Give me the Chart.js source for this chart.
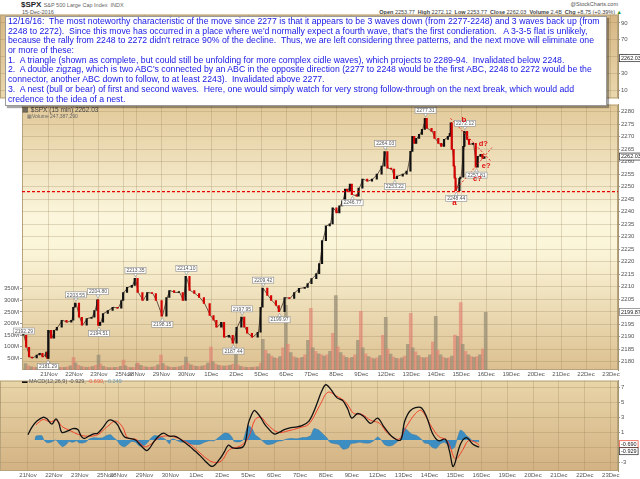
<!DOCTYPE html>
<html>
<head>
<meta charset="utf-8">
<title>$SPX 15 min</title>
<script src="https://cdn.jsdelivr.net/npm/chart.js@4.4.1/dist/chart.umd.min.js"></script>
<style>
  body { margin:0; width:640px; height:479px; overflow:hidden; background:#fff; position:relative;
         font-family:"Liberation Sans", Arial, sans-serif; }
  canvas { position:absolute; left:0; }
  #rsiChart { top:10px; }
  #priceChart { top:100px; }
  #macdChart { top:376px; }
  .t { position:absolute; white-space:pre; line-height:1; }
  #note { position:absolute; left:5px; top:16px; width:600px; height:88px; background:#fff;
          border:1px solid #9a9a9a; box-shadow:2px 2px 1px rgba(0,0,0,0.35); color:#1717e6; z-index:5; }
  #note div { white-space:pre; height:9.7px; line-height:9.7px; padding-left:2px; }
</style>
</head>
<body>

<div class="t" style="left:21px;top:1px;font-size:8px;font-weight:bold;color:#222">$SPX <span style="font-size:5.5px;font-weight:normal;color:#666">S&amp;P 500 Large Cap Index  INDX</span></div>
<div class="t" style="left:22px;top:10px;font-size:5.5px;color:#555">15-Dec-2016</div>
<div class="t" style="right:22px;top:2px;font-size:5.5px;color:#555">@StockCharts.com</div>
<div class="t" style="right:18px;top:10px;font-size:5.5px;color:#444"><b>Open</b> 2253.77  <b>High</b> 2272.12  <b>Low</b> 2253.77  <b>Close</b> 2262.03  <b>Volume</b> 2.4B  <b>Chg</b> +8.75 (+0.39%) <span style="color:#2a9a2a">&#9650;</span></div>

<canvas id="rsiChart" width="640" height="93"></canvas>
<canvas id="priceChart" width="640" height="280"></canvas>
<canvas id="macdChart" width="640" height="103"></canvas>

<div class="t" style="left:22px;top:107px;font-size:6.5px;color:#444">&#9638; $SPX (15 min) 2262.03</div>
<div class="t" style="left:27px;top:114px;font-size:5px;color:#666">&#9638;Volume 247,387,290</div>
<div class="t" style="left:22px;top:379px;font-size:5.5px;color:#555"><span style="color:#111">&#9644;</span> MACD(12,26,9) -0.929, <span style="color:#f05a3c">-0.690</span>, <span style="color:#6d9bb8">-0.249</span></div>

<div id="note">
<div>12/16/16:  The most noteworthy characteristic of the move since 2277 is that it appears to be 3 waves down (from 2277-2248) and 3 waves back up (from</div>
<div>2248 to 2272).  Since this move has occurred in a place where we'd normally expect a fourth wave, that's the first condieration.   A 3-3-5 flat is unlikely,</div>
<div>because the rally from 2248 to 2272 didn't retrace 90% of the decline.  Thus, we are left considering three patterns, and the next move will eliminate one</div>
<div>or more of these:</div>
<div>1.  A triangle (shown as complete, but could still be unfolding for more complex cidle waves), which projects to 2289-94.  Invalidated below 2248.</div>
<div>2.  A double zigzag, which is two ABC's connected by an ABC in the opposite direction (2277 to 2248 would be the first ABC, 2248 to 2272 would be the</div>
<div>connector, another ABC down to follow, to at least 2243).  Invalidated above 2277.</div>
<div>3.  A nest (bull or bear) of first and second waves.  Here, one would simply watch for very strong follow-through on the next break, which would add</div>
<div>credence to the idea of a nest.</div>
</div>

<script>
// ---- time axis (15-min bar index, 26 bars per session) ----
const dayLabels = ['21Nov','22Nov','23Nov','25Nov','28Nov','29Nov','30Nov','1Dec','2Dec','5Dec','6Dec','7Dec','8Dec','9Dec','12Dec','13Dec','14Dec','15Dec','16Dec','19Dec','20Dec','21Dec','22Dec','23Dec'];
const dayStart = [26,52,78,104,117,143,169,195,221,247,273,299,325,351,377,403,429,455,481,507,533,559,585,611];

// ---- tick labels ----
const priceTicks = [2180,2185,2190,2195,2200,2205,2210,2215,2220,2225,2230,2235,2240,2245,2250,2255,2260,2265,2270,2275,2280];
const volTicks = [50,100,150,200,250,300,350];
const macdTicks = [-3,-2,-1,0,1,2,3,4,5,6,7];
const rsiTicks = [10,30,50,70,90];

// ---- price (closes) ----
const priceIdx = [0,3,6,9,14,17,20,24,25,26,29,32,35,40,45,50,52,54,58,61,66,71,74,77,78,80,83,88,93,98,102,104,108,113,116,119,124,129,134,138,144,149,152,157,162,166,169,173,178,183,188,194,198,201,206,209,214,218,222,227,230,233,238,244,247,249,254,258,263,266,272,277,282,287,293,296,300,305,308,311,315,319,322,326,329,332,335,337,340,342,347,349,353,358,363,368,373,376,379,383,386,389,395,399,403,405,407,409,412,415,418,420,425,428,432,435,438,442,444,445,446,448,449,450,454,455,458,459,462,464,468,471,473,476,478,480];
const priceClose = [2190.6,2185.8,2181.9,2181.5,2182.7,2183.4,2181.9,2183.9,2181.3,2192.6,2189.4,2192.6,2193.8,2196.6,2195.8,2196.6,2201.8,2203.5,2197.8,2194.6,2197.3,2197.8,2200.5,2204.8,2194.5,2195.8,2199.3,2200.5,2201.8,2201.4,2204.5,2207.7,2209.7,2210.5,2213.3,2207.7,2204.5,2207.7,2207.3,2204.5,2198.2,2205.7,2208.5,2207.7,2207.7,2204.5,2214.1,2208.5,2207.3,2205.7,2203.3,2198.5,2196.6,2193.8,2195.8,2189.8,2190.6,2187.4,2193.8,2197.9,2193.8,2191.4,2189.8,2191.8,2201.8,2209.4,2206.5,2204.5,2202.5,2200.0,2205.7,2205.3,2207.7,2209.3,2209.7,2211.2,2213.2,2215.2,2219.2,2228.4,2234.3,2235.1,2241.5,2239.5,2242.3,2244.3,2249.0,2248.2,2251.0,2246.8,2246.2,2249.4,2253.0,2252.2,2253.0,2255.0,2258.2,2264.0,2257.4,2257.0,2253.2,2254.2,2255.0,2256.2,2264.1,2270.1,2267.3,2269.3,2270.9,2272.9,2277.3,2273.3,2272.1,2269.3,2267.3,2266.1,2268.9,2270.1,2271.3,2275.5,2264.9,2258.2,2253.4,2248.4,2253.3,2253.8,2266.1,2272.1,2268.9,2266.9,2267.3,2257.8,2262.1,2262.9,2261.3,2262.0];

// ---- volume, millions ----
const volIdx = [0,3,6,9,12,15,18,21,24, 26,29,32,35,38,41,44,47,50, 52,55,58,61,64,67,70,73,76, 78,81,84,87,90,93,96,99,102, 104,107,110,113,116,
  117,120,123,126,129,132,135,138,141, 143,146,149,152,155,158,161,164,167, 169,172,175,178,181,184,187,190,193, 195,198,201,204,207,210,213,216,219,
  221,224,227,230,233,236,239,242,245, 247,250,253,256,259,262,265,268,271, 273,276,279,282,285,288,291,294,297, 299,302,305,308,311,314,317,320,323,
  325,328,331,334,337,340,343,346,349, 351,354,357,360,363,366,369,372,375, 377,380,383,386,389,392,395,398,401, 403,406,409,412,415,418,421,424,427,
  429,432,435,438,441,444,447,450,453, 455,458,461,464,467,470,473,476,479];
const volM = [28,18,14,12,12,13,14,18,36, 25,18,14,12,11,12,14,18,55, 30,20,15,13,12,13,15,20,64, 25,16,12,10,10,11,12,16,43, 18,12,10,11,28,
  30,20,15,13,12,13,15,22,64, 28,18,14,12,12,13,15,20,56, 30,22,18,16,15,17,20,30,98, 35,25,20,18,17,18,20,25,73,
  22,16,13,12,12,12,13,14,30, 132,85,70,60,52,50,58,95,278, 110,75,58,52,50,55,65,128,265, 95,80,70,65,60,65,80,158,320,
  100,75,62,55,50,55,65,128,252, 95,70,58,52,48,52,62,149,226, 90,68,56,50,48,52,60,110,244, 95,78,62,55,52,55,65,120,231,
  85,65,55,50,52,60,150,145,290, 110,80,65,58,55,58,65,90,248];

// ---- price labels on highs / lows ----
const markIdx = [0,25,54,77,78,116,144,169,218,227,249,266,342,376,386,418,450,459,471];
const markText = ['2192.29','2181.29','2203.55','2204.80','2194.51','2213.35','2198.15','2214.10','2187.44','2197.95','2209.42','2199.97','2246.77','2264.03','2253.22','2277.31','2248.44','2272.12','2257.81'];
const markSide = [0,-1,1,1,-1,1,-1,1,-1,1,1,-1,-1,1,-1,1,-1,1,-1];

// ---- wave count annotations ----
const waveIdx = [448,458,472,478,481];
const waveVal = [2243.5,2276.9,2253.0,2266.9,2258.2];
const waveText = ['a','b','c?','d?','e?'];
const upperIdx = [444,486], upperVal = [2277.3,2260.2];
const lowerIdx = [448,487], lowerVal = [2248.2,2265.6];
const supportLevel = 2248;
const axisBoxVal = [2262.03,2199.87];

// ---- MACD(12,26,9) ----
const macdIdx = [26,30,35,41,45,50,54,57,60,66,71,76,79,82,87,92,96,101,107,112,116,119,123,128,134,139,145,148,152,157,162,168,173,178,183,188,194,199,204,211,218,223,227,231,235,242,245,247,250,253,256,260,263,266,273,278,284,289,294,301,308,314,321,325,330,336,342,347,351,357,363,370,377,383,391,400,404,410,420,426,432,438,445,449,453,460,466,473,479];
const macdVal = [0.7,1.7,2.5,3.0,2.8,2.1,2.8,2.2,1.0,1.2,1.5,1.4,0.6,0.2,0.5,0.8,0.9,1.6,2.6,2.5,2.0,1.2,0.4,0.2,0,-0.7,-1.4,-1.1,-0.3,0.5,0.9,0.5,0.5,0.2,-0.3,-0.8,-1.5,-2.1,-2.8,-3.5,-2.6,-1.6,-0.7,-1.0,-1.1,-0.9,0.2,2.1,3.2,3.9,3.6,2.9,2.2,1.7,0.8,1.0,1.4,1.6,1.7,1.9,2.5,4.1,6.5,7.3,6.7,5.6,5.2,4.1,2.9,3.5,3.1,2.2,2.9,1.8,0.5,0,2.4,3.9,4.3,3.1,0.9,-0.1,0.1,-1.4,-3.5,-0.6,0.3,-0.6,-0.93];
const sigIdx = [34,41,48,55,60,69,77,86,96,105,114,121,126,135,143,150,159,169,180,190,201,211,220,228,239,247,254,260,266,277,287,298,308,319,327,336,345,353,361,370,379,387,398,406,415,421,430,438,447,455,462,468,475,479];
const sigVal = [2.0,2.7,2.4,2.6,1.8,1.2,0.7,0.5,0.7,1.7,2.5,1.7,0.3,0.05,-0.9,-0.5,0.4,0.5,0.05,-0.7,-2.0,-2.9,-2.8,-1.3,-0.8,0.2,2.7,3.0,2.1,1.0,1.2,1.6,2.1,4.6,6.3,5.8,5.0,3.5,3.4,2.6,2.2,0.9,0.1,1.8,3.5,3.9,2.0,0.5,-0.1,-2.5,-1.4,-0.1,-0.3,-0.69];
const histIdx = [33,34,40,42,45,49,54,58,61,65,67,71,75,77,81,85,87,92,98,101,105,109,112,115,119,123,127,130,134,138,143,147,149,153,157,161,164,168,170,173,176,180,184,188,194,199,203,208,213,218,223,228,231,233,238,242,244,247,251,254,258,262,266,272,276,281,285,290,296,301,306,310,313,318,322,326,329,334,338,342,347,350,355,359,363,369,373,377,380,384,388,392,397,400,403,406,411,416,421,424,428,432,436,440,444,447,451,454,457,460,463,466,469,472,475,479];
const histVal = [0,0.5,0.55,0,-0.35,-0.3,0,-0.6,-0.9,-0.5,-0.2,-0.3,-0.1,-0.35,-0.4,-0.2,0.1,0.3,0.25,0.3,0.6,0.7,0.3,0,-0.7,-0.9,-0.5,-0.2,-0.3,-0.8,-0.7,-0.2,0.2,0.6,0.5,0.3,0.1,-0.5,0.1,0.1,-0.1,-0.3,-0.2,-0.5,-0.6,-0.55,-0.3,-0.1,-0.1,0.4,0.9,0.8,0.3,-0.2,-0.25,0,0.8,1.9,1.5,0.7,0.3,-0.2,-0.6,-0.5,-0.2,-0.1,0.1,0.2,0.15,0.3,0.35,0.6,1.5,1.3,0.8,0.3,-0.3,-0.5,-0.6,-1.2,-1.1,-0.5,-0.4,-0.3,-0.4,-0.4,-0.1,0.4,0.1,-0.6,-0.8,-0.7,-0.2,0.1,1.6,1.4,0.8,0.6,0.1,-0.4,-0.5,-1.0,-1.1,-0.5,-0.3,-0.6,-1.2,-1.0,0.2,1.3,1.1,0.6,0.3,-0.1,-0.2,-0.25];

const FONT = '"Liberation Sans", Arial, sans-serif';
const gridCol = 'rgba(150,128,88,0.28)';
const xMin = -2.1, xMax = 618.3;

// fit the note text to the box width
(function () {
  const note = document.getElementById('note');
  const c = document.createElement('canvas').getContext('2d');
  c.font = '9px ' + FONT;
  const w = c.measureText(note.children[0].textContent).width;
  note.style.fontSize = (9 * 592 / w).toFixed(2) + 'px';
})();

const pts = (xs, ys) => xs.map((x, k) => ({ x: x, y: ys[k] }));

const panelBg = {
  id: 'panelBg',
  beforeDraw(chart, args, opts) {
    const { ctx, chartArea: a } = chart;
    const g = ctx.createLinearGradient(0, a.top, 0, a.bottom);
    opts.stops.forEach(s => g.addColorStop(s[0], s[1]));
    ctx.save();
    ctx.fillStyle = g;
    ctx.fillRect(a.left, a.top, a.right - a.left, a.bottom - a.top);
    ctx.strokeStyle = '#b8a47c';
    ctx.lineWidth = 1;
    ctx.strokeRect(a.left + 0.5, a.top + 0.5, a.right - a.left - 1, a.bottom - a.top - 1);
    ctx.restore();
  }
};

function axisBox(ctx, x, y, text, border) {
  ctx.font = '5.5px ' + FONT;
  const w = ctx.measureText(text).width + 3;
  ctx.fillStyle = '#fff';
  ctx.fillRect(x, y - 3.5, w, 7);
  ctx.strokeStyle = border;
  ctx.lineWidth = 0.7;
  ctx.strokeRect(x + 0.5, y - 3.5, w, 7);
  ctx.fillStyle = '#222';
  ctx.textAlign = 'left';
  ctx.textBaseline = 'middle';
  ctx.fillText(text, x + 2, y + 0.3);
}

const priceNotes = {
  id: 'priceNotes',
  afterDatasetsDraw(chart) {
    const { ctx, scales: { x, price } } = chart;
    ctx.save();
    ctx.font = '5px ' + FONT;
    ctx.textAlign = 'center';
    ctx.textBaseline = 'middle';
    markIdx.forEach((mi, k) => {
      const px = x.getPixelForValue(mi);
      const py = price.getPixelForValue(Number(markText[k]));
      const by = py - markSide[k] * 8;
      const w = ctx.measureText(markText[k]).width + 3, h = 6;
      ctx.fillStyle = '#fff';
      ctx.strokeStyle = '#8c8c8c';
      ctx.lineWidth = 0.6;
      if (markSide[k] !== 0) {
        const ty = by + markSide[k] * 3;
        ctx.beginPath();
        ctx.moveTo(px - 2, ty); ctx.lineTo(px + 2, ty); ctx.lineTo(px, py - markSide[k] * 1.5);
        ctx.closePath(); ctx.fill(); ctx.stroke();
      }
      ctx.fillRect(px - w / 2, by - h / 2, w, h);
      ctx.strokeRect(px - w / 2, by - h / 2, w, h);
      ctx.fillStyle = '#555';
      ctx.fillText(markText[k], px, by + 0.3);
    });
    ctx.fillStyle = '#e01010';
    waveIdx.forEach((wi, k) => {
      ctx.font = (k < 2 ? 'bold 8px ' : 'bold 7.5px ') + FONT;
      ctx.fillText(waveText[k], x.getPixelForValue(wi), price.getPixelForValue(waveVal[k]));
    });
    ctx.restore();
  },
  afterDraw(chart) {
    const { ctx, scales: { price }, chartArea: a } = chart;
    ctx.save();
    axisBoxVal.forEach((v, k) => axisBox(ctx, a.right + 1, price.getPixelForValue(v), v.toFixed(2), k ? '#777' : '#222'));
    ctx.restore();
  }
};

const xAxis = (showLabels, h) => ({
  type: 'linear', min: xMin, max: xMax, offset: false,
  afterBuildTicks: ax => { ax.ticks = dayStart.map(v => ({ value: v })); },
  afterFit: ax => { ax.height = h; },
  ticks: { display: showLabels, autoSkip: false, maxRotation: 0, minRotation: 0, padding: 1,
           font: { size: 6, family: FONT }, color: '#555', callback: (v, i) => dayLabels[i] },
  grid: { color: gridCol, drawTicks: false, offset: false },
  border: { display: false }
});

const yRight = (min, max, ticks, fmt) => ({
  position: 'right', min: min, max: max,
  afterBuildTicks: ax => { ax.ticks = ticks.map(v => ({ value: v })); },
  afterFit: ax => { ax.width = 22; },
  ticks: { padding: 1, font: { size: 6, family: FONT }, color: '#555', callback: fmt },
  grid: { color: gridCol, tickLength: 2, tickColor: '#999' },
  border: { color: '#a8946e' }
});

const baseOpts = {
  responsive: false, animation: false, events: [],
  plugins: { legend: { display: false }, tooltip: { enabled: false } }
};

// ---- top panel (indicator behind the note) ----
new Chart(document.getElementById('rsiChart'), {
  type: 'line',
  data: { datasets: [] },
  options: Object.assign({}, baseOpts, {
    layout: { padding: { top: 3 } },
    plugins: Object.assign({}, baseOpts.plugins, { panelBg: { stops: [[0, '#d6b683'], [1, '#ead8ae']] } }),
    scales: {
      x: xAxis(false, 0),
      rsi: yRight(0, 100, rsiTicks, v => String(v))
    }
  }),
  plugins: [panelBg, {
    id: 'rsiBox',
    afterDraw(chart) {
      const { ctx, scales: { rsi }, chartArea: a } = chart;
      ctx.save();
      axisBox(ctx, a.right + 1, rsi.getPixelForValue(48), '2262.03', '#222');
      ctx.restore();
    }
  }]
});

// ---- price + volume panel ----
new Chart(document.getElementById('priceChart'), {
  type: 'bar',
  data: {
    datasets: [
      { type: 'line', data: [{ x: xMin, y: supportLevel }, { x: xMax, y: supportLevel }], yAxisID: 'price',
        borderColor: '#e80000', borderWidth: 1.3, borderDash: [3, 2], pointRadius: 0, order: 0 },
      { type: 'line', data: pts(upperIdx, upperVal), yAxisID: 'price',
        borderColor: '#ee2020', borderWidth: 1, borderDash: [2, 2], pointRadius: 0, order: 0 },
      { type: 'line', data: pts(lowerIdx, lowerVal), yAxisID: 'price',
        borderColor: '#ee2020', borderWidth: 1, borderDash: [2, 2], pointRadius: 0, order: 0 },
      { type: 'bar', yAxisID: 'price', order: 1, barThickness: 1.5, minBarLength: 1,
        data: priceIdx.map((x, k) => ({ x: x, y: [k ? priceClose[k - 1] : priceClose[k], priceClose[k]] })),
        backgroundColor: priceClose.map((v, k) => (k && v < priceClose[k - 1]) ? '#d40000' : '#111') },
      { type: 'line', yAxisID: 'price', order: 2, data: pts(priceIdx, priceClose),
        borderColor: 'rgba(50,30,25,0.7)', borderWidth: 1, pointRadius: 0, tension: 0 },
      { type: 'bar', yAxisID: 'vol', order: 5, barThickness: 3,
        data: volIdx.map((x, k) => ({ x: x, y: volM[k] * 1e6 })),
        backgroundColor: volIdx.map((x, k) => k % 2 ? 'rgba(226,126,112,0.62)' : 'rgba(150,140,116,0.72)') }
    ]
  },
  options: Object.assign({}, baseOpts, {
    layout: { padding: { top: 3 } },
    plugins: Object.assign({}, baseOpts.plugins, {
      panelBg: { stops: [[0, '#e2c999'], [0.42, '#fbf6dc'], [0.55, '#fbf5d8'], [1, '#dcc090']] }
    }),
    scales: {
      x: xAxis(true, 10),
      price: yRight(2176.7, 2282.8, priceTicks, v => String(v)),
      vol: {
        position: 'left', min: 0, max: 1141e6,
        afterBuildTicks: ax => { ax.ticks = volTicks.map(v => ({ value: v * 1e6 })); },
        afterFit: ax => { ax.width = 22; },
        ticks: { padding: 1, font: { size: 6, family: FONT }, color: '#555', callback: v => (v / 1e6) + 'M' },
        grid: { drawOnChartArea: false, tickLength: 2, tickColor: '#999' },
        border: { display: false }
      }
    }
  }),
  plugins: [panelBg, priceNotes]
});

// ---- MACD panel ----
new Chart(document.getElementById('macdChart'), {
  type: 'line',
  data: {
    datasets: [
      { data: pts(macdIdx, macdVal), borderColor: '#111', borderWidth: 1.3, pointRadius: 0, tension: 0.35, order: 0 },
      { data: pts(sigIdx, sigVal), borderColor: '#f2402a', borderWidth: 1, pointRadius: 0, tension: 0.35, order: 1 },
      { data: pts(histIdx, histVal), borderColor: '#2f77a8', backgroundColor: '#3c8dc2', borderWidth: 0.5,
        fill: 'origin', pointRadius: 0, tension: 0.2, order: 2 }
    ]
  },
  options: Object.assign({}, baseOpts, {
    layout: { padding: { top: 2 } },
    plugins: Object.assign({}, baseOpts.plugins, { panelBg: { stops: [[0, '#e8d5a8'], [1, '#d3b283']] } }),
    scales: {
      x: xAxis(true, 8),
      y: yRight(-4.1, 7.85, macdTicks, v => String(v))
    }
  }),
  plugins: [panelBg, {
    id: 'macdBoxes',
    afterDraw(chart) {
      const { ctx, scales: { y }, chartArea: a } = chart;
      ctx.save();
      const y1 = y.getPixelForValue(sigVal[sigVal.length - 1]);
      axisBox(ctx, a.right + 1, y1 - 1, '-0.690', '#f2402a');
      axisBox(ctx, a.right + 1, y1 + 6, '-0.929', '#222');
      ctx.restore();
    }
  }]
});
</script>
</body>
</html>
